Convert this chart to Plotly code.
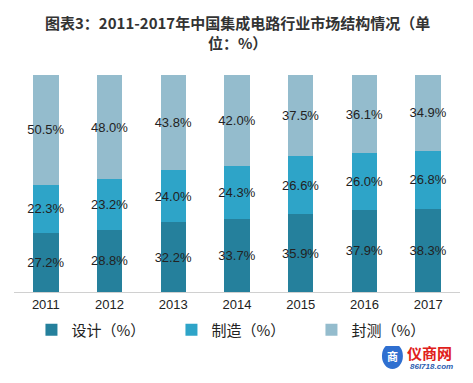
import plotly.graph_objects as go

years = ["2011", "2012", "2013", "2014", "2015", "2016", "2017"]
design = [27.2, 28.8, 32.2, 33.7, 35.9, 37.9, 38.3]
manufacture = [22.3, 23.2, 24.0, 24.3, 26.6, 26.0, 26.8]
packaging = [50.5, 48.0, 43.8, 42.0, 37.5, 36.1, 34.9]
series_names = ["设计（%）", "制造（%）", "封测（%）"]
colors = ["#25809c", "#2ea4c8", "#94bccd"]

fig = go.Figure()
for name, vals, col in zip(series_names, [design, manufacture, packaging], colors):
    fig.add_trace(go.Bar(
        x=years, y=vals, name=name,
        marker=dict(color=col, line=dict(width=0)),
        text=[f"{v:.1f}%" for v in vals],
        textposition="inside", insidetextanchor="middle",
        textangle=0, constraintext="none", cliponaxis=False,
        textfont=dict(size=13, color="#222222", family="Liberation Sans, Arial"),
        width=0.4,
    ))

# page body has an 8px margin, so the figure is sized/offset to compensate
fig.update_layout(
    barmode="stack",
    width=465, height=375,
    margin=dict(l=6, r=13, t=67, b=91, autoexpand=False),
    paper_bgcolor="white", plot_bgcolor="white",
    xaxis=dict(
        showline=True, linecolor="#d0d0d0", linewidth=1,
        ticks="", tickfont=dict(size=13, color="#222222", family="Liberation Sans, Arial"),
        showgrid=False,
    ),
    yaxis=dict(range=[0, 100], visible=False, showgrid=False),
    legend=dict(
        orientation="h", x=0.51, xanchor="center", y=-0.175, yanchor="middle",
        font=dict(size=15, color="#222222", family="Noto Sans CJK SC"),
        entrywidth=95, itemwidth=30, traceorder="normal",
    ),
    showlegend=True,
)

fig.add_annotation(
    text="<b>图表3：2011-2017年中国集成电路行业市场结构情况（单<br>位：%）</b>",
    xref="paper", yref="paper", x=0.5, y=1.194, xanchor="center", yanchor="middle",
    showarrow=False, align="center",
    font=dict(size=15, color="#333333", family="Noto Sans CJK SC"),
)

fig.add_shape(
    type="circle", xref="paper", yref="paper",
    x0=0.825, x1=0.872, y0=-0.355, y1=-0.235,
    fillcolor="#2f6fd0", line=dict(width=0), layer="above",
)
fig.add_annotation(
    text="<b>商</b>", xref="paper", yref="paper", x=0.8485, y=-0.295,
    xanchor="center", yanchor="middle", showarrow=False,
    font=dict(size=11, color="white", family="Noto Sans CJK SC"),
)
fig.add_annotation(
    text="<b>仪商网</b>", xref="paper", yref="paper", x=0.932, y=-0.281,
    xanchor="center", yanchor="middle", showarrow=False,
    font=dict(size=15, color="#e0201a", family="Noto Sans CJK SC"),
)
fig.add_annotation(
    text="<b><i>86I718.com</i></b>", xref="paper", yref="paper", x=0.935, y=-0.345,
    xanchor="center", yanchor="middle", showarrow=False,
    font=dict(size=8, color="#2a5db0", family="Liberation Sans"),
)

fig.write_html("out.html")
